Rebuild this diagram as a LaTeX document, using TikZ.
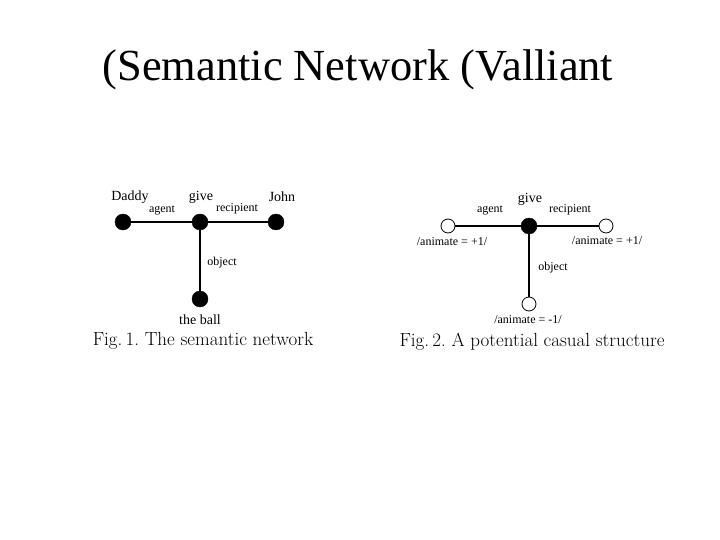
\documentclass[tikz,border=0pt]{standalone}
\usepackage{fontspec}
\setmainfont{Liberation Serif}
\newfontfamily\capfont{Latin Modern Roman}
\frenchspacing
\begin{document}
\begin{tikzpicture}[x=1pt,y=-1pt,
  fulldot/.style={circle,fill=black,draw=black,minimum size=16pt,inner sep=0pt},
  opendot/.style={circle,fill=white,draw=black,line width=0.8pt,minimum size=14pt,inner sep=0pt},
  edge/.style={line width=1.3pt},
  nm/.style={font=\fontsize{14}{15}\selectfont,inner sep=0pt},
  rel/.style={font=\fontsize{12}{13}\selectfont,inner sep=0pt},
  figcap/.style={font=\capfont\fontsize{19}{20}\selectfont,inner sep=0pt}]
\useasboundingbox (0,0) rectangle (720,540);
\node[font=\fontsize{44.4}{48}\selectfont,inner sep=0pt] (title) at (358,70) {(Semantic Network (Valliant};
% Fig 1
\node[fulldot] (daddy) at (123,222) {};
\node[fulldot] (give) at (200,222) {};
\node[fulldot] (john) at (276,222) {};
\node[fulldot] (ball) at (200,299) {};
\draw[edge] (daddy) -- (give);
\draw[edge] (give) -- (john);
\draw[edge] (give) -- (ball);
\node[nm] (tdaddy) at (130,197) {Daddy};
\node[nm] (tgive) at (201,197) {give};
\node[nm] (tjohn) at (282,197) {John};
\node[nm] (tball) at (200,320) {the ball};
\node[rel] (tagent) at (162,210) {agent};
\node[rel] (trec) at (237,209) {recipient};
\node[rel] (tobj) at (222,263) {object};
\node[figcap] (cap1) at (203,341) {Fig.\,1. The semantic network};
% Fig 2
\node[fulldot] (give2) at (529,226) {};
\node[opendot] (ag2) at (448,226) {};
\node[opendot] (re2) at (606,226) {};
\node[opendot] (ob2) at (529,304) {};
\draw[edge] (ag2) -- (give2);
\draw[edge] (give2) -- (re2);
\draw[edge] (give2) -- (ob2);
\node[nm] (tgive2) at (530,199) {give};
\node[rel] (tagent2) at (490,210) {agent};
\node[rel] (trec2) at (570,210) {recipient};
\node[rel] (tobj2) at (553,268) {object};
\node[rel] (an1) at (452,242) {/animate = +1/};
\node[rel] (an2) at (607,241) {/animate = +1/};
\node[rel] (an3) at (528,320) {/animate = -1/};
\node[figcap] (cap2) at (532,342) {Fig.\,2. A potential casual structure};
\end{tikzpicture}
\end{document}
